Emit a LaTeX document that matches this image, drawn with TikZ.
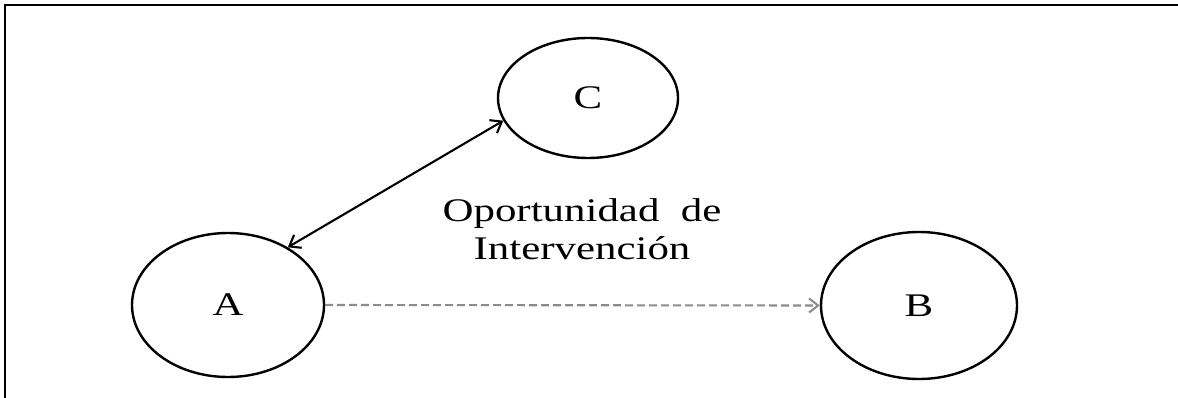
\documentclass[tikz,border=0pt]{standalone}
\usepackage{fontspec}
\setmainfont{Liberation Serif}
\usetikzlibrary{shapes.geometric,arrows.meta}
\newcommand{\wide}[1]{\scalebox{1.3}[1]{#1}}
\begin{document}
\begin{tikzpicture}[x=1pt,y=-1pt,
  oval/.style={draw=black,ellipse,line width=2.4pt,inner sep=0pt,font=\fontsize{33}{37}\selectfont},
  lbl/.style={font=\fontsize{33}{37}\selectfont,inner sep=0pt,anchor=base},
  biarrow/.style={line width=2.1pt,{Straight Barb[length=10pt,width=15pt]}-{Straight Barb[length=10pt,width=15pt]}},
  dasharrow/.style={line width=2.1pt,draw=gray!90,dash pattern=on 8pt off 4pt,-{Straight Barb[length=9pt,width=14pt]}}]
\useasboundingbox (0,0) rectangle (1178,398);
\draw[line width=2.8pt] (1185,5) -- (5,5) -- (5,405);
\node[oval,minimum width=192pt,minimum height=144pt] (A) at (228,305) {\wide{A}};
\node[oval,minimum width=196pt,minimum height=147pt] (B) at (919,305.5) {\wide{B}};
\node[oval,minimum width=180pt,minimum height=120pt] (C) at (588,98) {\wide{C}};
\node[lbl] (l1) at (582,222) {\wide{Oportunidad\ \ de}};
\node[lbl] (l2) at (582,259) {\wide{Intervención}};
\draw[biarrow] (A.44) -- (C.195);
\draw[dasharrow] (A.east) -- (B.west);
\end{tikzpicture}
\end{document}
